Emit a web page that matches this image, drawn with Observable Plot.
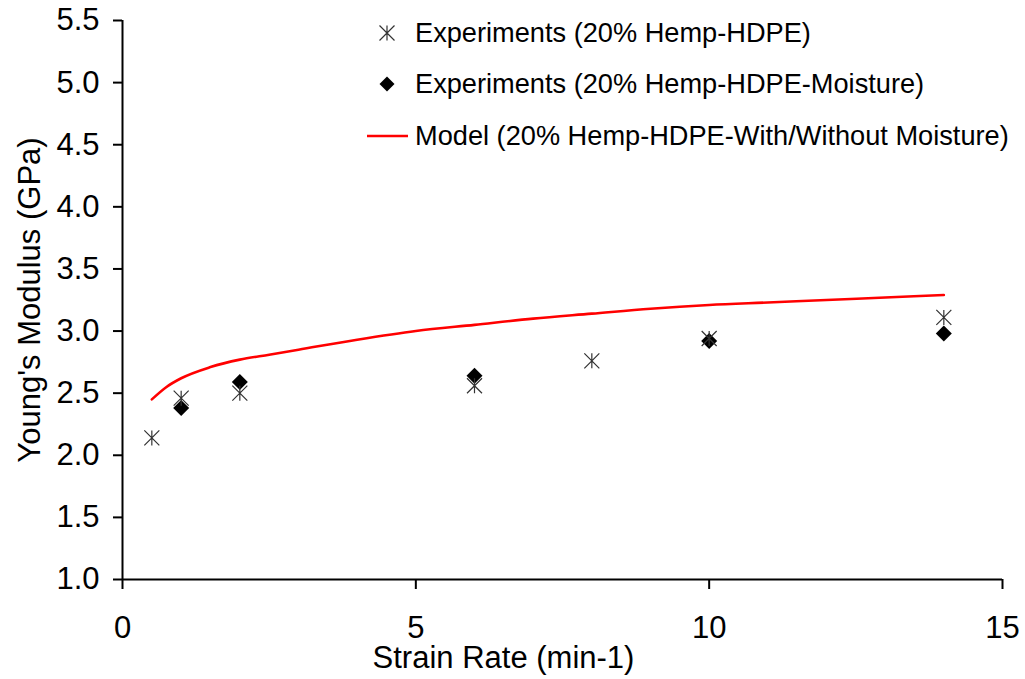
<!DOCTYPE html>
<html>
<head>
<meta charset="utf-8">
<script src="https://cdn.jsdelivr.net/npm/d3@7"></script>
<script src="https://cdn.jsdelivr.net/npm/@observablehq/plot@0.6"></script>
<style>
  html, body { margin: 0; padding: 0; background: #fff; }
  #wrap { position: relative; width: 1025px; height: 679px; font-family: "Liberation Sans", Arial, sans-serif; }
  #legend { position: absolute; left: 367px; top: 7px; color: #000; font-size: 27.2px; }
  #legend .row { display: flex; align-items: center; height: 51.5px; white-space: nowrap; }
  #legend .sym { width: 48px; height: 30px; flex: none; }
</style>
</head>
<body>
<div id="wrap"></div>
<script>
// Strain rate (min-1) and Young's modulus (GPa)
const hempRate = [0.5, 1, 2, 6, 8, 10, 14];
const hempModulus = [2.14, 2.46, 2.50, 2.56, 2.76, 2.94, 3.11];

const moistRate = [1, 2, 6, 10, 14];
const moistModulus = [2.38, 2.59, 2.64, 2.92, 2.98];

const modelRate = [0.5, 0.75, 1, 1.5, 2, 2.5, 3, 4, 5, 6, 7, 8, 9, 10, 11, 12, 13, 14];
const modelModulus = [2.45, 2.55, 2.62, 2.71, 2.77, 2.81, 2.85, 2.93, 3.00, 3.05, 3.10, 3.14, 3.18, 3.21, 3.23, 3.25, 3.27, 3.29];

const xTicks = [0, 5, 10, 15];
const yTicks = [1.0, 1.5, 2.0, 2.5, 3.0, 3.5, 4.0, 4.5, 5.0, 5.5];

const seriesNames = [
  "Experiments (20% Hemp-HDPE)",
  "Experiments (20% Hemp-HDPE-Moisture)",
  "Model (20% Hemp-HDPE-With/Without Moisture)"
];

const hemp = hempRate.map((x, i) => ({x, y: hempModulus[i]}));
const moist = moistRate.map((x, i) => ({x, y: moistModulus[i]}));
const model = modelRate.map((x, i) => ({x, y: modelModulus[i]}));

// Star marker: an X crossed by a vertical stroke
const starSymbol = {
  draw(ctx, size) {
    const r = Math.sqrt(size / Math.PI);
    ctx.moveTo(-r, -r); ctx.lineTo(r, r);
    ctx.moveTo(-r, r); ctx.lineTo(r, -r);
    ctx.moveTo(0, -r); ctx.lineTo(0, r);
  }
};
// Filled diamond marker
const diamondSymbol = {
  draw(ctx, size) {
    const r = Math.sqrt(size / Math.PI);
    ctx.moveTo(0, -r); ctx.lineTo(r, 0); ctx.lineTo(0, r); ctx.lineTo(-r, 0); ctx.closePath();
  }
};

const chart = Plot.plot({
  width: 1025,
  height: 679,
  marginLeft: 122,
  marginRight: 23,
  marginTop: 20,
  marginBottom: 100,
  style: {fontFamily: "'Liberation Sans', Arial, sans-serif", fontSize: "31px", color: "#000", background: "#fff"},
  x: {domain: [0, 15]},
  y: {domain: [1, 5.5]},
  marks: [
    Plot.axisY(yTicks, {tickSize: 9, tickPadding: 14, tickFormat: d => d.toFixed(1), strokeWidth: 2, label: null}),
    Plot.axisX(xTicks, {tickSize: 10, tickPadding: 26, tickFormat: d => String(d), strokeWidth: 2, label: null}),
    Plot.ruleX([0], {stroke: "#000", strokeWidth: 2}),
    Plot.ruleY([1], {stroke: "#000", strokeWidth: 2}),
    Plot.line(model, {x: "x", y: "y", stroke: "#ff0000", strokeWidth: 2.6, curve: "monotone-x"}),
    Plot.dot(moist, {x: "x", y: "y", symbol: diamondSymbol, r: 8, fill: "#000", stroke: "none"}),
    Plot.dot(hemp, {x: "x", y: "y", symbol: starSymbol, r: 7.5, stroke: "#333", strokeWidth: 1.2, fill: "none"}),
    Plot.text(["Young's Modulus (GPa)"], {frameAnchor: "left", textAnchor: "middle", lineAnchor: "middle", rotate: -90, dx: -92, fontSize: 31, fill: "#000"}),
    Plot.text(["Strain Rate (min-1)"], {frameAnchor: "bottom", textAnchor: "middle", lineAnchor: "middle", dx: -59, dy: 79, fontSize: 31, fill: "#000"})
  ]
});

const wrap = document.getElementById("wrap");
wrap.appendChild(chart);

// Legend placed inside the plot area, top right
const legend = document.createElement("div");
legend.id = "legend";
const symbols = [
  `<svg class="sym" viewBox="0 0 48 30"><path d="M12.5,7.5L27.5,22.5M12.5,22.5L27.5,7.5M20,7.5L20,22.5" stroke="#333" stroke-width="1.2" fill="none"/></svg>`,
  `<svg class="sym" viewBox="0 0 48 30"><path d="M20,7.5L27.5,15L20,22.5L12.5,15Z" fill="#000"/></svg>`,
  `<svg class="sym" viewBox="0 0 48 30"><line x1="0" y1="15" x2="41" y2="15" stroke="#ff0000" stroke-width="2.6"/></svg>`
];
seriesNames.forEach((name, i) => {
  const row = document.createElement("div");
  row.className = "row";
  row.innerHTML = symbols[i] + `<span>${name}</span>`;
  legend.appendChild(row);
});
wrap.appendChild(legend);
</script>
</body>
</html>
